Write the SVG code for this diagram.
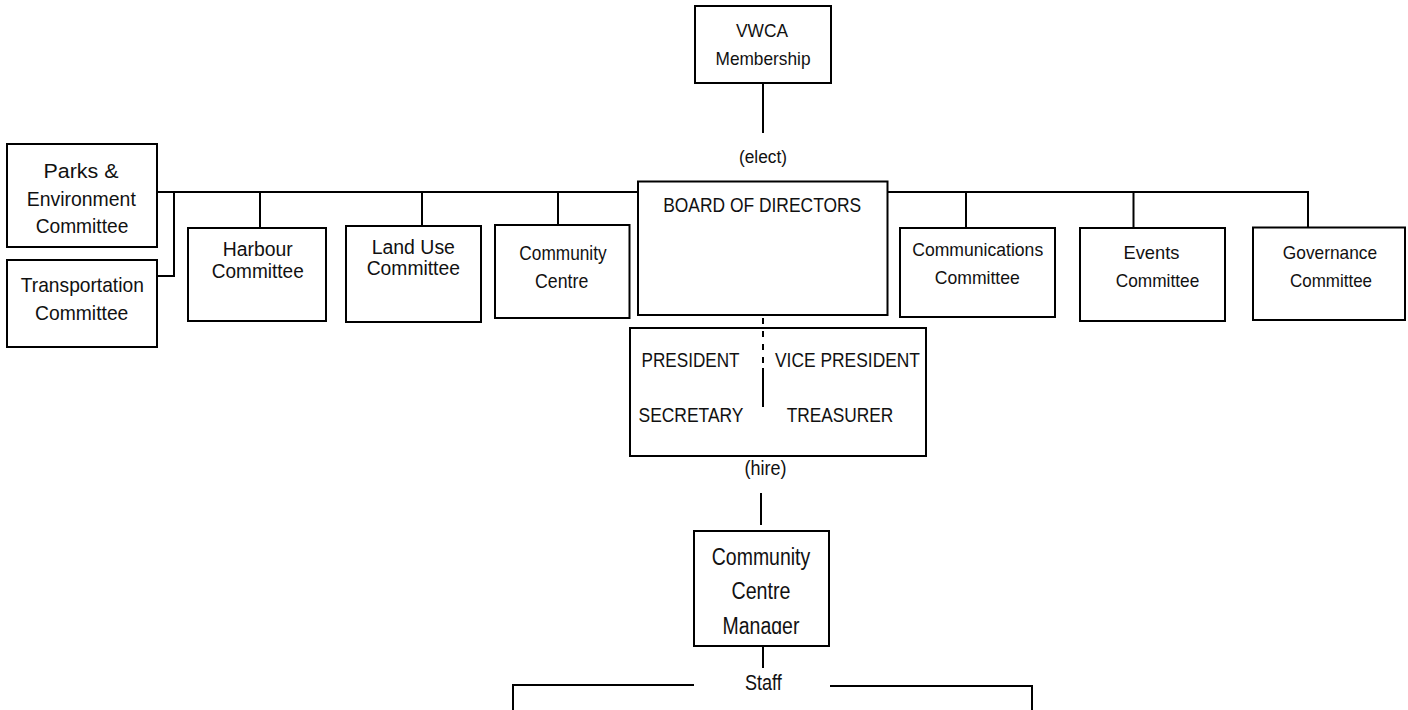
<svg xmlns="http://www.w3.org/2000/svg" width="1408" height="710" viewBox="0 0 1408 710">
<style>
.box{fill:#fff;stroke:#000;stroke-width:2}
.ln{fill:none;stroke:#000;stroke-width:2}
.dash{fill:none;stroke:#000;stroke-width:2;stroke-dasharray:6 7}
text{font-family:"Liberation Sans",Arial,sans-serif;fill:#111;text-anchor:middle}
</style>
<defs>
<clipPath id="mgrclip"><rect x="690" y="520" width="145" height="114"/></clipPath>
</defs>
<rect width="1408" height="710" fill="#fff"/>
<g id="connectors">
<line class="ln" x1="763" y1="83" x2="763" y2="133"/>
<polyline class="ln" points="157,192 638,192"/>
<polyline class="ln" points="887,192 1308,192 1308,228"/>
<polyline class="ln" points="174,192 174,276 157,276"/>
<line class="ln" x1="260" y1="192" x2="260" y2="228"/>
<line class="ln" x1="422" y1="192" x2="422" y2="226"/>
<line class="ln" x1="558" y1="192" x2="558" y2="225"/>
<line class="ln" x1="966" y1="192" x2="966" y2="228"/>
<line class="ln" x1="1133.5" y1="192" x2="1133.5" y2="228"/>
<line class="dash" x1="763" y1="318" x2="763" y2="366"/>
<line class="ln" x1="763" y1="368" x2="763" y2="407"/>
<line class="ln" x1="761" y1="493" x2="761" y2="525"/>
<line class="ln" x1="763" y1="646" x2="763" y2="668"/>
<polyline class="ln" points="694,685 513,685 513,710"/>
<polyline class="ln" points="830,686 1032,686 1032,710"/>
</g>
<g id="labels">
<text x="763" y="162.5" font-size="18" textLength="48" lengthAdjust="spacingAndGlyphs">(elect)</text>
<text x="765.4" y="475" font-size="20" textLength="42" lengthAdjust="spacingAndGlyphs">(hire)</text>
<text x="763.4" y="689.6" font-size="22" textLength="36.8" lengthAdjust="spacingAndGlyphs">Staff</text>
</g>
<g id="vwca">
<rect class="box" x="695" y="6" width="136" height="77"/>
<text x="762" y="37.3" font-size="18" textLength="52" lengthAdjust="spacingAndGlyphs">VWCA</text>
<text x="763" y="65" font-size="18.5" textLength="95" lengthAdjust="spacingAndGlyphs">Membership</text>
</g>
<g id="parks">
<rect class="box" x="7" y="144" width="150" height="103"/>
<text x="81" y="178.3" font-size="20.5" textLength="75" lengthAdjust="spacingAndGlyphs">Parks &amp;</text>
<text x="81.3" y="205.7" font-size="20.5" textLength="109" lengthAdjust="spacingAndGlyphs">Environment</text>
<text x="82" y="233.3" font-size="20.5" textLength="92.7" lengthAdjust="spacingAndGlyphs">Committee</text>
</g>
<g id="transportation">
<rect class="box" x="7" y="260" width="150" height="87"/>
<text x="82.3" y="291.7" font-size="21" textLength="123" lengthAdjust="spacingAndGlyphs">Transportation</text>
<text x="81.7" y="320" font-size="21" textLength="93.3" lengthAdjust="spacingAndGlyphs">Committee</text>
</g>
<g id="harbour">
<rect class="box" x="188" y="228" width="138" height="93"/>
<text x="257.7" y="256" font-size="19.5" textLength="70" lengthAdjust="spacingAndGlyphs">Harbour</text>
<text x="257.8" y="277.5" font-size="19.5" textLength="92" lengthAdjust="spacingAndGlyphs">Committee</text>
</g>
<g id="landuse">
<rect class="box" x="346" y="226" width="135" height="96"/>
<text x="413.3" y="254" font-size="19.5" textLength="83.3" lengthAdjust="spacingAndGlyphs">Land Use</text>
<text x="413.3" y="275" font-size="19.5" textLength="93.3" lengthAdjust="spacingAndGlyphs">Committee</text>
</g>
<g id="communitycentre">
<rect class="box" x="495" y="225" width="134.5" height="93"/>
<text x="563" y="259.5" font-size="20" textLength="87.3" lengthAdjust="spacingAndGlyphs">Community</text>
<text x="561.7" y="288.3" font-size="20" textLength="53.3" lengthAdjust="spacingAndGlyphs">Centre</text>
</g>
<g id="board">
<rect class="box" x="638" y="181.5" width="249.5" height="133.5"/>
<text x="762.2" y="211.7" font-size="21" textLength="198" lengthAdjust="spacingAndGlyphs">BOARD OF DIRECTORS</text>
</g>
<g id="communications">
<rect class="box" x="900" y="228" width="155" height="89"/>
<text x="977.7" y="255.8" font-size="19" textLength="131" lengthAdjust="spacingAndGlyphs">Communications</text>
<text x="977.3" y="284.4" font-size="19" textLength="85" lengthAdjust="spacingAndGlyphs">Committee</text>
</g>
<g id="events">
<rect class="box" x="1080" y="228" width="145" height="93"/>
<text x="1151.5" y="259" font-size="19" textLength="56" lengthAdjust="spacingAndGlyphs">Events</text>
<text x="1157.5" y="287" font-size="19" textLength="83.5" lengthAdjust="spacingAndGlyphs">Committee</text>
</g>
<g id="governance">
<rect class="box" x="1253" y="227.5" width="152" height="92.5"/>
<text x="1330" y="258.5" font-size="19" textLength="94.3" lengthAdjust="spacingAndGlyphs">Governance</text>
<text x="1331" y="286.7" font-size="19" textLength="82" lengthAdjust="spacingAndGlyphs">Committee</text>
</g>
<g id="officers">
<rect class="box" x="630" y="328" width="296" height="128"/>
<line class="dash" x1="763" y1="318" x2="763" y2="366"/>
<line class="ln" x1="763" y1="368" x2="763" y2="407"/>
<text x="690.5" y="366.7" font-size="21" textLength="98" lengthAdjust="spacingAndGlyphs">PRESIDENT</text>
<text x="847.5" y="366.7" font-size="21" textLength="145" lengthAdjust="spacingAndGlyphs">VICE PRESIDENT</text>
<text x="691" y="421.7" font-size="21" textLength="105" lengthAdjust="spacingAndGlyphs">SECRETARY</text>
<text x="840" y="421.7" font-size="21" textLength="106.7" lengthAdjust="spacingAndGlyphs">TREASURER</text>
</g>
<g id="manager">
<rect class="box" x="694" y="531" width="135" height="115"/>
<g clip-path="url(#mgrclip)">
<text x="761" y="564.6" font-size="23" textLength="98.4" lengthAdjust="spacingAndGlyphs">Community</text>
<text x="761" y="598.6" font-size="23" textLength="59" lengthAdjust="spacingAndGlyphs">Centre</text>
<text x="761" y="633.6" font-size="23" textLength="76.8" lengthAdjust="spacingAndGlyphs">Manager</text>
</g>
</g>
</svg>
